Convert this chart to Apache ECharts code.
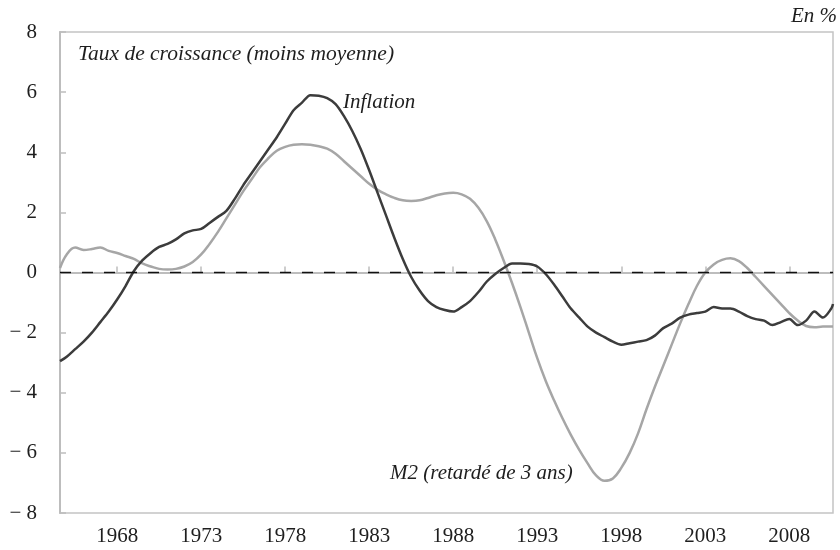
<!DOCTYPE html>
<html lang="fr">
<head>
    <meta charset="utf-8">
    <title>Inflation et M2</title>
    <script src="https://cdn.jsdelivr.net/npm/echarts@6/dist/echarts.min.js"></script>
    <style>
        html, body { margin: 0; padding: 0; background: #fff; }
        #main { width: 840px; height: 550px; }
    </style>
</head>
<body>
<div id="main"></div>
<script type="text/javascript">
    // années (pas d'un semestre)
    var years = [1964.6, 1965, 1965.5, 1966, 1966.5, 1967, 1967.5, 1968, 1968.5, 1969, 1969.5,
        1970, 1970.5, 1971, 1971.5, 1972, 1972.5, 1973, 1973.5, 1974, 1974.5,
        1975, 1975.5, 1976, 1976.5, 1977, 1977.5, 1978, 1978.5, 1979, 1979.5,
        1980, 1980.5, 1981, 1981.5, 1982, 1982.5, 1983, 1983.5, 1984, 1984.5,
        1985, 1985.5, 1986, 1986.5, 1987, 1987.5, 1988, 1988.5, 1989, 1989.5,
        1990, 1990.5, 1991, 1991.5, 1992, 1992.5, 1993, 1993.5, 1994, 1994.5,
        1995, 1995.5, 1996, 1996.5, 1997, 1997.5, 1998, 1998.5, 1999, 1999.5,
        2000, 2000.5, 2001, 2001.5, 2002, 2002.5, 2003, 2003.5, 2004, 2004.5,
        2005, 2005.5, 2006, 2006.5, 2007, 2007.5, 2008, 2008.5, 2009, 2009.5,
        2010, 2010.5, 2010.6];

    var inflation = [-2.95, -2.8, -2.55, -2.3, -2.0, -1.65, -1.3, -0.9, -0.45, 0.05, 0.4,
        0.65, 0.85, 0.95, 1.1, 1.3, 1.4, 1.45, 1.65, 1.85, 2.05,
        2.45, 2.9, 3.3, 3.7, 4.1, 4.5, 4.95, 5.4, 5.65, 5.9,
        5.88, 5.8, 5.6, 5.2, 4.7, 4.1, 3.4, 2.65, 1.9, 1.15,
        0.45, -0.15, -0.6, -0.95, -1.15, -1.25, -1.3, -1.15, -0.95, -0.65,
        -0.3, -0.05, 0.15, 0.3, 0.3, 0.28, 0.2, -0.05, -0.4, -0.8,
        -1.2, -1.5, -1.8, -2.0, -2.15, -2.3, -2.4, -2.35, -2.3, -2.25,
        -2.1, -1.85, -1.7, -1.5, -1.4, -1.35, -1.3, -1.15, -1.2, -1.2,
        -1.3, -1.45, -1.55, -1.6, -1.75, -1.65, -1.55, -1.75, -1.6, -1.3,
        -1.5, -1.2, -1.05];

    var m2 = [0.15, 0.6, 0.83, 0.75, 0.78, 0.83, 0.72, 0.65, 0.55, 0.45, 0.3,
        0.2, 0.12, 0.1, 0.12, 0.2, 0.35, 0.6, 0.95, 1.35, 1.8,
        2.25, 2.7, 3.1, 3.5, 3.8, 4.05, 4.18, 4.25, 4.27, 4.25,
        4.2, 4.12, 3.95, 3.7, 3.45, 3.2, 2.95, 2.75, 2.6, 2.48,
        2.4, 2.38, 2.4, 2.48, 2.57, 2.63, 2.65, 2.6, 2.45, 2.15,
        1.7, 1.1, 0.4, -0.35, -1.15, -2.0, -2.85, -3.6, -4.25, -4.85,
        -5.4, -5.9, -6.35, -6.75, -6.93, -6.85, -6.5, -6.0, -5.35, -4.55,
        -3.8, -3.1, -2.4, -1.7, -1.05, -0.45, 0.0, 0.27, 0.42, 0.47,
        0.38, 0.15, -0.15, -0.45, -0.75, -1.05, -1.35, -1.6, -1.78, -1.82,
        -1.8, -1.8, -1.8];

    var xTicks = [1968, 1973, 1978, 1983, 1988, 1993, 1998, 2003, 2008];

    var font = 'Liberation Serif';
    var myChart = echarts.init(document.getElementById('main'));

    function pairs(ys) {
        var out = [];
        for (var i = 0; i < years.length; i++) {
            out.push([years[i], ys[i]]);
        }
        return out;
    }

    myChart.setOption({
        animation: false,
        grid: {
            left: 60,
            right: 7,
            top: 32,
            bottom: 37,
            show: true,
            borderColor: '#c4c4c4',
            borderWidth: 1.5
        },
        xAxis: {
            type: 'value',
            min: 1964.6,
            max: 2010.6,
            splitLine: { show: false },
            axisLine: { lineStyle: { color: '#bdbdbd', width: 2 } },
            axisTick: {
                inside: true,
                length: 6,
                customValues: xTicks,
                lineStyle: { color: '#bdbdbd', width: 1.5 }
            },
            axisLabel: {
                customValues: xTicks,
                margin: 13,
                color: '#1e1e1e',
                fontFamily: font,
                fontSize: 21,
                formatter: function (v) { return String(v); }
            }
        },
        yAxis: {
            type: 'value',
            min: -8,
            max: 8,
            interval: 2,
            splitLine: { show: false },
            axisLine: { show: true, lineStyle: { color: '#bdbdbd', width: 2 } },
            axisTick: {
                show: true,
                inside: true,
                length: 6,
                lineStyle: { color: '#bdbdbd', width: 1.5 }
            },
            axisLabel: {
                margin: 23,
                color: '#1e1e1e',
                fontFamily: font,
                fontSize: 21,
                formatter: function (v) {
                    return v < 0 ? '\u2212 ' + (-v) : String(v);
                }
            }
        },
        series: [
            {
                name: 'M2 (retardé de 3 ans)',
                type: 'line',
                data: pairs(m2),
                showSymbol: false,
                smooth: 0.4,
                lineStyle: { color: '#a6a6a6', width: 2.5 },
                z: 2,
                markLine: {
                    silent: true,
                    symbol: 'none',
                    label: { show: false },
                    lineStyle: { color: '#111', width: 1.3, type: [11, 11] },
                    data: [{ yAxis: 0 }]
                }
            },
            {
                name: 'Inflation',
                type: 'line',
                data: pairs(inflation),
                showSymbol: false,
                smooth: 0.3,
                lineStyle: { color: '#3c3c3c', width: 2.5 },
                z: 3
            }
        ],
        graphic: [
            {
                type: 'text', left: 78, top: 43,
                style: { text: 'Taux de croissance (moins moyenne)', font: 'italic 21.5px "Liberation Serif"', fill: '#1e1e1e' }
            },
            {
                type: 'text', right: 3, top: 6,
                style: { text: 'En %', font: 'italic 21px "Liberation Serif"', fill: '#1e1e1e' }
            },
            {
                type: 'text', left: 343, top: 92,
                style: { text: 'Inflation', font: 'italic 21px "Liberation Serif"', fill: '#1e1e1e' }
            },
            {
                type: 'text', left: 390, top: 463,
                style: { text: 'M2 (retardé de 3 ans)', font: 'italic 21px "Liberation Serif"', fill: '#1e1e1e' }
            }
        ]
    });
</script>
</body>
</html>
